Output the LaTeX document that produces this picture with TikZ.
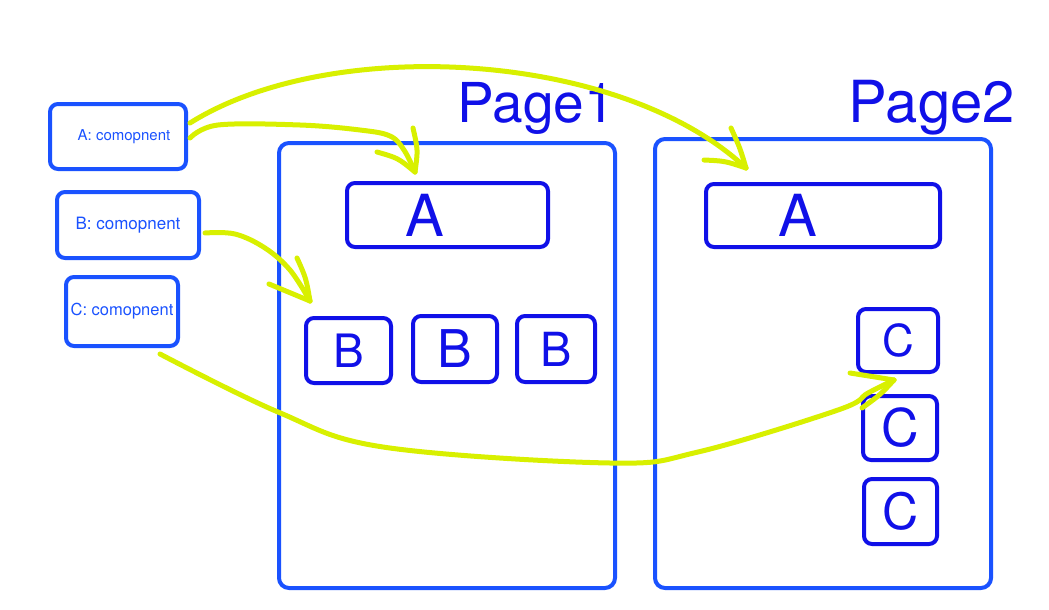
\documentclass[tikz,border=0pt]{standalone}
\usepackage{fontspec}
\setmainfont{TeX Gyre Heros}
\definecolor{lblue}{RGB}{26,82,255}
\definecolor{dblue}{RGB}{16,16,232}
\definecolor{ylw}{RGB}{216,240,0}
\begin{document}
\begin{tikzpicture}[x=1pt,y=-1pt,
  comp/.style={draw=lblue,line width=4pt,rounded corners=8pt,text=lblue,inner sep=0pt},
  page/.style={draw=lblue,line width=4pt,rounded corners=10pt,inner sep=0pt},
  item/.style={draw=dblue,line width=4pt,rounded corners=8pt,text=dblue,inner sep=0pt},
  title/.style={text=dblue,font=\fontsize{55}{55}\selectfont,inner sep=0pt},
  conn/.style={draw=ylw,line width=5pt,line cap=round,line join=round},
  headstroke/.style={draw=ylw,line width=5pt,line cap=round}]
\useasboundingbox (0,0) rectangle (1049,610);
% component boxes
\node[comp,minimum width=136pt,minimum height=65pt,font=\fontsize{15}{15}\selectfont] (cA) at (118,136.5) {\hspace*{12pt}A: comopnent};
\node[comp,minimum width=142pt,minimum height=66pt,font=\fontsize{17}{17}\selectfont] (cB) at (128,225) {B: comopnent};
\node[comp,minimum width=112pt,minimum height=69pt,font=\fontsize{16.5}{16.5}\selectfont] (cC) at (122,311.5) {C: comopnent};
% pages
\node[page,minimum width=336pt,minimum height=445pt] (p1) at (447,365.5) {};
\node[page,minimum width=336pt,minimum height=449pt] (p2) at (823,363.5) {};
\node[title,anchor=base east] (t1) at (615,122) {Page1};
\node[title,anchor=base east,font=\fontsize{58}{58}\selectfont] (t2) at (1015,122) {Page2};
% page 1 items
\node[item,minimum width=201pt,minimum height=64pt,font=\fontsize{58}{58}\selectfont] (a1) at (447.5,215) {\hspace*{-46pt}A};
\node[item,minimum width=85pt,minimum height=65pt,font=\fontsize{46}{46}\selectfont] (b1) at (348.5,350.5) {B};
\node[item,minimum width=84pt,minimum height=66pt,font=\fontsize{52}{52}\selectfont] (b2) at (455,349) {B};
\node[item,minimum width=78pt,minimum height=66pt,font=\fontsize{47}{47}\selectfont] (b3) at (556,349) {B};
% page 2 items
\node[item,minimum width=234pt,minimum height=63pt,font=\fontsize{58}{58}\selectfont] (a2) at (823,215.5) {\hspace*{-50pt}A};
\node[item,minimum width=80pt,minimum height=63pt,font=\fontsize{44}{44}\selectfont] (c1) at (898,340.5) {C};
\node[item,minimum width=74pt,minimum height=64pt,font=\fontsize{52}{52}\selectfont] (c2) at (900,428) {C};
\node[item,minimum width=73pt,minimum height=65pt,font=\fontsize{50}{50}\selectfont] (c3) at (900.5,511.5) {C};
% arrow tips
\coordinate (tA2) at (746,168);
\coordinate (tA1) at (415,172);
\coordinate (tB) at (310,301);
\coordinate (tC) at (894,380);
% connectors
\draw[conn] ([xshift=2pt,yshift=13.5pt]cA.east) .. controls (330,35) and (620,50) .. (tA2);
\draw[conn] plot[smooth,tension=0.6] coordinates {([xshift=2pt,yshift=-1.5pt]cA.east) (218,125) (300,125) (360,130) (390,136) (404,150) (tA1)};
\draw[conn] plot[smooth,tension=0.6] coordinates {([xshift=4pt,yshift=-8pt]cB.east) (235,234) (265,248) (290,270) (tB)};
\draw[conn] plot[smooth,tension=0.6] coordinates {([xshift=38pt,yshift=-6pt]cC.south) (278,412) (383,447) (610,463) (698,452) (838,410) (868,393) (tC)};
% hand-drawn heads
\draw[headstroke] (731,128) .. controls (740,148) .. (tA2);
\draw[headstroke] (704,160) .. controls (725,161) .. (tA2);
\draw[headstroke] (413,128) .. controls (418,150) .. (tA1);
\draw[headstroke] (377,152) .. controls (398,158) .. (tA1);
\draw[headstroke] (297,258) .. controls (306,278) .. (tB);
\draw[headstroke] (269,284) .. controls (290,293) .. (tB);
\draw[headstroke] (850,373) -- (tC);
\draw[headstroke] (862,408) .. controls (880,395) .. (tC);
\end{tikzpicture}
\end{document}
